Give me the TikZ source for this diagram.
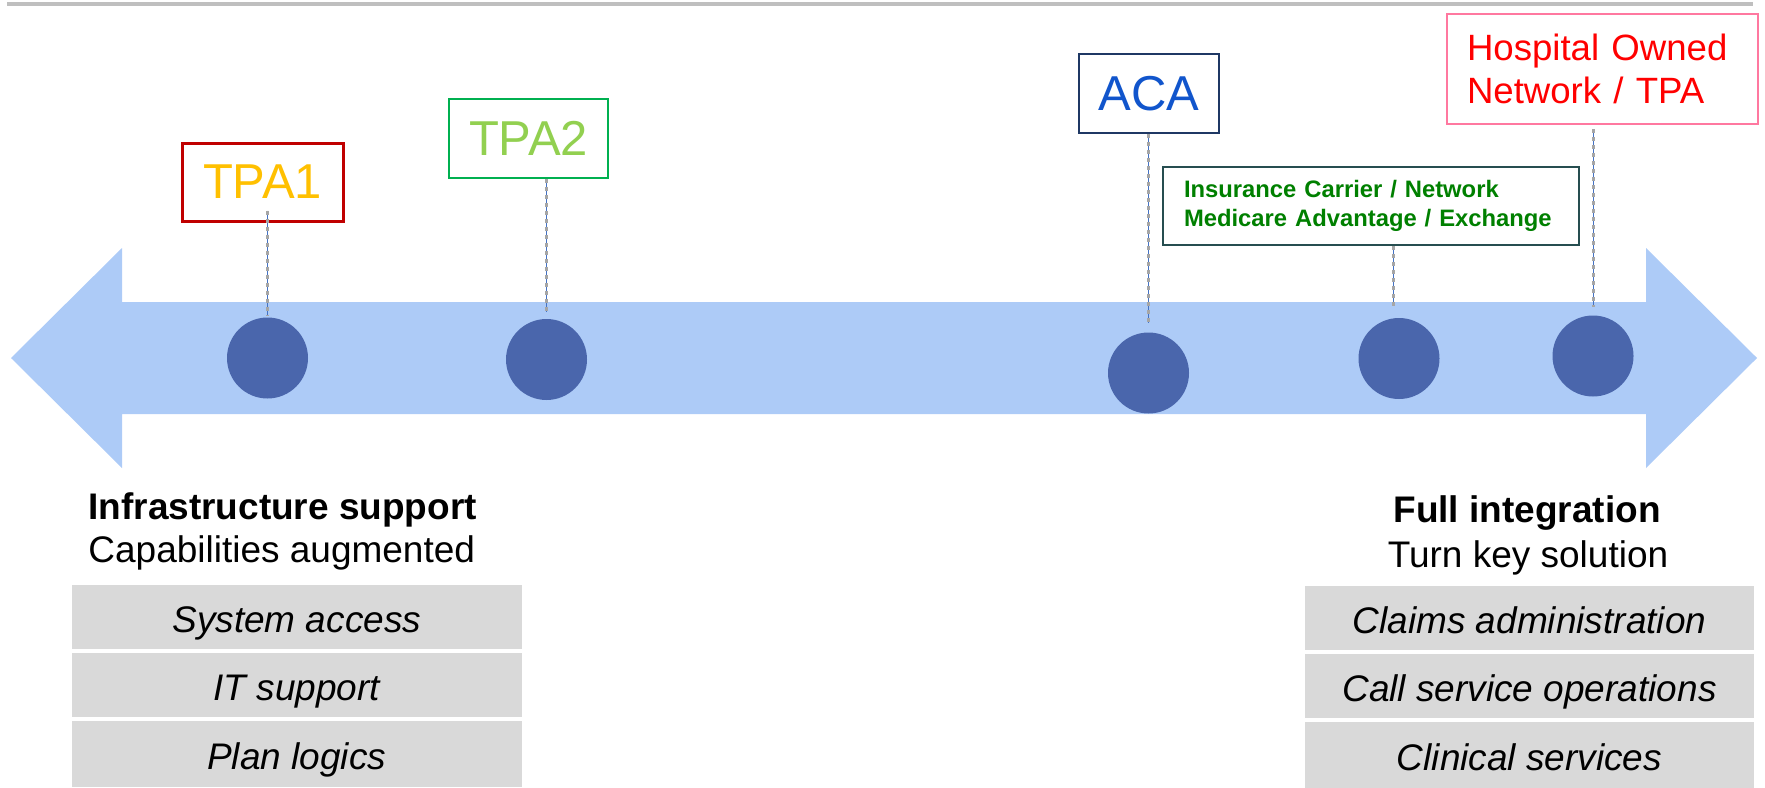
\documentclass[tikz,border=0pt]{standalone}
\usepackage{fontspec}
\setmainfont{Liberation Sans}
\definecolor{arrowblue}{RGB}{173,203,247}
\definecolor{dotblue}{RGB}{74,102,172}
\definecolor{topgray}{RGB}{191,191,191}
\definecolor{rowgray}{RGB}{217,217,217}
\definecolor{dashgray}{RGB}{166,166,166}
\definecolor{linkblue}{RGB}{68,114,196}
\definecolor{tpaonered}{RGB}{192,0,0}
\definecolor{tpaoneyellow}{RGB}{255,192,0}
\definecolor{tpatwoborder}{RGB}{0,176,80}
\definecolor{tpatwotext}{RGB}{146,208,80}
\definecolor{acanavy}{RGB}{31,56,100}
\definecolor{acatext}{RGB}{17,85,204}
\definecolor{insborder}{RGB}{38,78,80}
\definecolor{instext}{RGB}{0,128,0}
\definecolor{hosppink}{RGB}{255,120,160}
\begin{document}
\begin{tikzpicture}[x=0.5pt,y=-0.5pt,
  box/.style={draw, fill=white, inner sep=0pt, align=center},
  dot/.style={circle, fill=dotblue, minimum size=40.5pt, inner sep=0pt},
  conn/.style={draw=dashgray, line width=1.5pt, dash pattern=on 2pt off 2pt,
               preaction={draw=linkblue, line width=0.5pt, solid}},
  rowbox/.style={fill=rowgray, inner sep=0pt, minimum height=32pt, text depth=0pt,
                 text height=15.5pt, font=\fontsize{18.5}{22}\selectfont\itshape},
  headtxt/.style={inner sep=0pt, font=\bfseries\fontsize{18.5}{22}\selectfont},
  subtxt/.style={inner sep=0pt, font=\fontsize{18.5}{22}\selectfont},
]
\useasboundingbox (0,0) rectangle (1765,787);

% top rule
\draw[topgray, line width=2pt] (7,4) -- (1753,4);

% double arrow
\fill[arrowblue] (11,358) -- (122,248) -- (122,302) -- (1646,302) -- (1646,248)
  -- (1757,358) -- (1646,468) -- (1646,414) -- (122,414) -- (122,468) -- cycle;

% milestone dots
\node[dot] (c1) at (267.5,358) {};
\node[dot] (c2) at (546.5,359.5) {};
\node[dot] (c3) at (1148.5,373) {};
\node[dot] (c4) at (1399,358.5) {};
\node[dot] (c5) at (1593,356) {};

% label boxes
\node[box, draw=tpaonered, line width=1.5pt, text=tpaoneyellow,
      minimum width=80.5pt, minimum height=39pt, font=\fontsize{24.5}{28}\selectfont]
      (b1) at (262.5,182) {TPA1};
\node[box, draw=tpatwoborder, line width=1pt, text=tpatwotext,
      minimum width=79.5pt, minimum height=39.5pt, font=\fontsize{24.5}{28}\selectfont]
      (b2) at (528.5,138.5) {TPA2};
\node[box, draw=acanavy, line width=1.25pt, text=acatext,
      minimum width=70pt, minimum height=39.5pt, font=\fontsize{24.5}{28}\selectfont]
      (b3) at (1149,93.5) {ACA};
\node[box, draw=insborder, line width=1pt, text=instext, align=left,
      inner xsep=10.5pt, text width=187pt, minimum height=39pt,
      font=\bfseries\fontsize{11.9}{14.5}\selectfont]
      (b4) at (1371,206) {Insurance Carrier / Network\\Medicare Advantage / Exchange};
\node[box, draw=hosppink, line width=1pt, text=red, align=left,
      inner xsep=10pt, text width=135.5pt, minimum height=55pt,
      font=\fontsize{18.3}{21.5}\selectfont]
      (b5) at (1602.5,69) {Hospital Owned\\Network / TPA};

% connectors
\draw[conn] ([yshift=6pt]c1.north |- b1.south) -- ([yshift=1.25pt]c1.north);
\draw[conn] (c2.north |- b2.south) -- ([yshift=3.5pt]c2.north);
\draw[conn] (c3.north |- b3.south) -- ([yshift=4.75pt]c3.north);
\draw[conn] ([xshift=-3pt]c4.north |- b4.south) -- ([xshift=-3pt,yshift=6pt]c4.north);
\draw[conn] ([yshift=-2pt]c5.north |- b5.south) -- ([yshift=4.25pt]c5.north);

% left captions
\node[headtxt, anchor=base west] (h1) at (88,519) {Infrastructure support};
\node[subtxt, anchor=base west] (s1) at (88,562) {Capabilities augmented};
\node[rowbox, minimum width=225.25pt] (l1) at (296.75,617) {System access};
\node[rowbox, minimum width=225.25pt] (l2) at (296.75,685) {IT support};
\node[rowbox, minimum width=225.25pt, minimum height=33pt] (l3) at (296.75,754) {Plan logics};

% right captions
\node[headtxt, anchor=base] (h2) at (1527,522) {Full integration};
\node[subtxt, anchor=base] (s2) at (1528,567) {Turn key solution};
\node[rowbox, minimum width=224.5pt] (r1) at (1529.5,618) {Claims administration};
\node[rowbox, minimum width=224.5pt] (r2) at (1529.5,686) {Call service operations};
\node[rowbox, minimum width=224.5pt, minimum height=33pt] (r3) at (1529.5,755) {Clinical services};
\end{tikzpicture}
\end{document}
